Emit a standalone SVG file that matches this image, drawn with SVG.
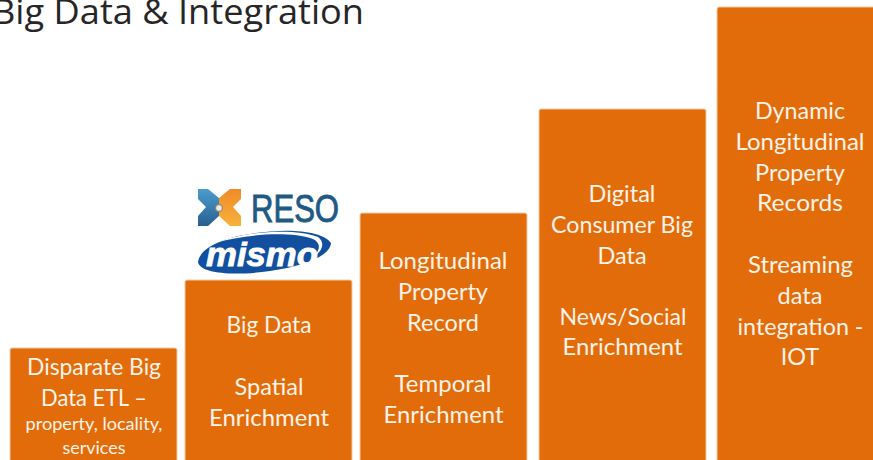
<svg xmlns="http://www.w3.org/2000/svg" width="873" height="460" viewBox="0 0 873 460">
<defs>
<linearGradient id="xb" x1="0" y1="0" x2="0" y2="1"><stop offset="0" stop-color="#4a9ccf"/><stop offset="1" stop-color="#2a5f8f"/></linearGradient>
<linearGradient id="xo" x1="0" y1="0" x2="0" y2="1"><stop offset="0" stop-color="#f08a2a"/><stop offset="1" stop-color="#f6b23a"/></linearGradient>
</defs>
<style>
.box{fill:#e36c0a;stroke:#f0c9a5;stroke-width:1}
.t{font-family:"Lato","Carlito","Liberation Sans",sans-serif;font-size:23.5px;fill:#fdf3e9;text-anchor:middle}
.s{font-size:18px}
</style>
<rect width="873" height="460" fill="#fff"/>
<text id="title" x="-8" y="24" font-family="'Open Sans','Noto Sans',sans-serif" font-size="34px" fill="#262626" textLength="372" lengthAdjust="spacingAndGlyphs">Big Data &amp; Integration</text>
<g id="node1"><rect class="box" x="10" y="348" width="167" height="120" rx="2"/>
<text class="t" x="94" y="375" textLength="134" lengthAdjust="spacingAndGlyphs">Disparate Big</text><text class="t" x="94" y="406" textLength="106" lengthAdjust="spacingAndGlyphs">Data ETL –</text>
<text class="t s" x="94" y="430" textLength="137" lengthAdjust="spacingAndGlyphs">property, locality,</text><text class="t s" x="94" y="454">services</text></g>
<g id="node2"><rect class="box" x="185" y="280" width="167" height="190" rx="2"/>
<text class="t" x="269" y="333" textLength="85" lengthAdjust="spacingAndGlyphs">Big Data</text><text class="t" x="269" y="395">Spatial</text><text class="t" x="269" y="426" textLength="120" lengthAdjust="spacingAndGlyphs">Enrichment</text></g>
<g id="node3"><rect class="box" x="360" y="213" width="167" height="260" rx="2"/>
<text class="t" x="443" y="269" textLength="129" lengthAdjust="spacingAndGlyphs">Longitudinal</text><text class="t" x="443" y="300" textLength="90" lengthAdjust="spacingAndGlyphs">Property</text><text class="t" x="443" y="331">Record</text>
<text class="t" x="443" y="392" textLength="97" lengthAdjust="spacingAndGlyphs">Temporal</text><text class="t" x="443.500" y="423" textLength="120" lengthAdjust="spacingAndGlyphs">Enrichment</text></g>
<g id="node4"><rect class="box" x="539" y="109" width="167" height="365" rx="2"/>
<text class="t" x="622" y="202">Digital</text><text class="t" x="622" y="233" textLength="142" lengthAdjust="spacingAndGlyphs">Consumer Big</text><text class="t" x="622" y="264">Data</text>
<text class="t" x="623" y="325" textLength="127" lengthAdjust="spacingAndGlyphs">News/Social</text><text class="t" x="622.500" y="355" textLength="120" lengthAdjust="spacingAndGlyphs">Enrichment</text></g>
<g id="node5"><rect class="box" x="717" y="7" width="170" height="470" rx="2"/>
<text class="t" x="800" y="119" textLength="90" lengthAdjust="spacingAndGlyphs">Dynamic</text><text class="t" x="800" y="150" textLength="129" lengthAdjust="spacingAndGlyphs">Longitudinal</text><text class="t" x="800" y="181" textLength="90" lengthAdjust="spacingAndGlyphs">Property</text><text class="t" x="800" y="211" textLength="86" lengthAdjust="spacingAndGlyphs">Records</text>
<text class="t" x="800.500" y="273" textLength="105" lengthAdjust="spacingAndGlyphs">Streaming</text><text class="t" x="800" y="304">data</text><text class="t" x="800.500" y="335" textLength="126" lengthAdjust="spacingAndGlyphs">integration -</text><text class="t" x="800" y="365">IOT</text></g>
<g id="reso">
<path fill="url(#xb)" d="M198 189H208L219 198V216L208 226H198V216L206 207L198 199Z"/>
<path fill="url(#xo)" d="M241 189H230L219 198V216L230 226H241V216L233 207L241 199Z"/>
<circle cx="219" cy="208" r="3.500" fill="#e8e8e8" stroke="#8a7a60" stroke-width="1"/>
<text x="251" y="222" font-family="'Liberation Sans',sans-serif" font-size="38px" fill="#1f5a85" stroke="#1f5a85" stroke-width=".9" textLength="88" lengthAdjust="spacingAndGlyphs">RESO</text>
</g>
<g id="mismo">
<path fill="#12509f" d="M198 262C200 248 222 238 250 234 285 228 322 230 331 243 330 256 305 266 270 271 235 276 200 274 198 262z"/>
<path d="M215 243C245 231 295 228 318 237 326 243 322 252 312 258 321 250 321 243 313 239 290 231 245 234 215 243z" fill="#fff"/>
<text x="262" y="266" font-family="'Liberation Sans',sans-serif" font-size="33px" font-weight="bold" font-style="italic" fill="#fff" stroke="#fff" stroke-width=".8" text-anchor="middle" textLength="112" lengthAdjust="spacingAndGlyphs">mismo</text>
</g>
</svg>
